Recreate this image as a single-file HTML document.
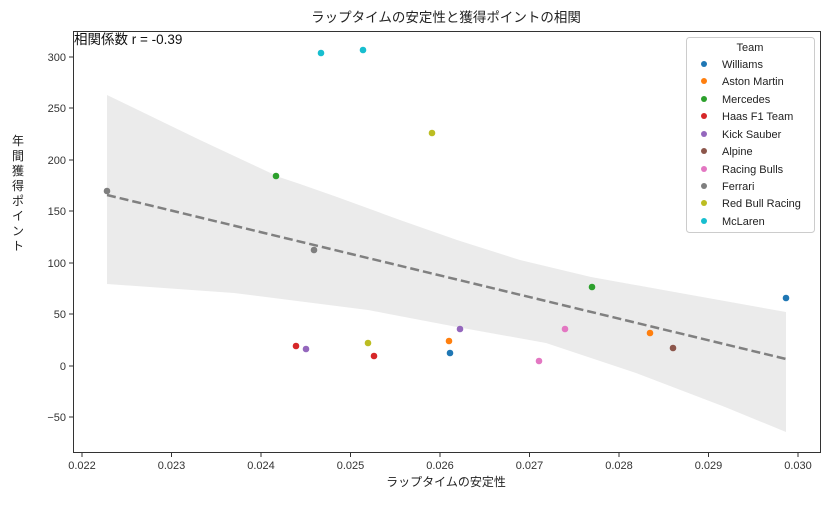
<!DOCTYPE html><html><head><style>body{margin:0;background:#fff}svg text{font-family:"Liberation Sans","Noto Sans CJK JP",sans-serif}</style></head><body>
<svg width="833" height="500" xmlns="http://www.w3.org/2000/svg">
<text x="446" y="22" font-size="13.5" text-anchor="middle" fill="#222">ラップタイムの安定性と獲得ポイントの相関</text>
<path d="M107,95 L200,140 L279,177 L300,184 L337,197 L400,220 L457,240 L520,260 L591,277 L680,293 L786,312 L786,432 L725,407 L636,373 L546,343 L457,327 L368,310 L234,293 L107,284 Z" fill="#ebebeb"/>
<line x1="107" y1="195" x2="786" y2="359" stroke="#808080" stroke-width="2.5" stroke-dasharray="9,4"/>
<g>
<circle cx="786" cy="298" r="3.3" fill="#1f77b4"/><circle cx="450" cy="353" r="3.3" fill="#1f77b4"/>
<circle cx="650" cy="333" r="3.3" fill="#ff7f0e"/><circle cx="449" cy="341" r="3.3" fill="#ff7f0e"/>
<circle cx="276" cy="176" r="3.3" fill="#2ca02c"/><circle cx="592" cy="287" r="3.3" fill="#2ca02c"/>
<circle cx="296" cy="346" r="3.3" fill="#d62728"/><circle cx="374" cy="356" r="3.3" fill="#d62728"/>
<circle cx="306" cy="349" r="3.3" fill="#9467bd"/><circle cx="460" cy="329" r="3.3" fill="#9467bd"/>
<circle cx="673" cy="348" r="3.3" fill="#8c564b"/>
<circle cx="565" cy="329" r="3.3" fill="#e377c2"/><circle cx="539" cy="361" r="3.3" fill="#e377c2"/>
<circle cx="107" cy="191" r="3.3" fill="#7f7f7f"/><circle cx="314" cy="250" r="3.3" fill="#7f7f7f"/>
<circle cx="432" cy="133" r="3.3" fill="#bcbd22"/><circle cx="368" cy="343" r="3.3" fill="#bcbd22"/>
<circle cx="321" cy="53" r="3.3" fill="#17becf"/><circle cx="363" cy="50" r="3.3" fill="#17becf"/>
</g>
<rect x="73.5" y="31.5" width="747" height="421" fill="none" stroke="#333" stroke-width="1"/>
<text x="74" y="44" font-size="13.5" fill="#111">相関係数 r = -0.39</text>
<g font-size="11" fill="#333" text-anchor="end">
<text x="66" y="61">300</text><text x="66" y="112">250</text><text x="66" y="164">200</text><text x="66" y="215">150</text><text x="66" y="267">100</text><text x="66" y="318">50</text><text x="66" y="370">0</text><text x="66" y="421">−50</text>
</g>
<g stroke="#333"><line x1="69" x2="73" y1="57" y2="57"/><line x1="69" x2="73" y1="108" y2="108"/><line x1="69" x2="73" y1="160" y2="160"/><line x1="69" x2="73" y1="211" y2="211"/><line x1="69" x2="73" y1="263" y2="263"/><line x1="69" x2="73" y1="314" y2="314"/><line x1="69" x2="73" y1="366" y2="366"/><line x1="69" x2="73" y1="417" y2="417"/>
<line y1="453" y2="457" x1="82" x2="82"/><line y1="453" y2="457" x1="171.5" x2="171.5"/><line y1="453" y2="457" x1="261" x2="261"/><line y1="453" y2="457" x1="350.5" x2="350.5"/><line y1="453" y2="457" x1="440" x2="440"/><line y1="453" y2="457" x1="529.5" x2="529.5"/><line y1="453" y2="457" x1="619" x2="619"/><line y1="453" y2="457" x1="708.5" x2="708.5"/><line y1="453" y2="457" x1="798" x2="798"/></g>
<g font-size="11" fill="#333" text-anchor="middle">
<text x="82" y="469">0.022</text><text x="171.5" y="469">0.023</text><text x="261" y="469">0.024</text><text x="350.5" y="469">0.025</text><text x="440" y="469">0.026</text><text x="529.5" y="469">0.027</text><text x="619" y="469">0.028</text><text x="708.5" y="469">0.029</text><text x="798" y="469">0.030</text>
</g>
<text x="446" y="486" font-size="12" text-anchor="middle" fill="#222">ラップタイムの安定性</text>
<g font-size="12" fill="#222" text-anchor="middle"><text x="18" y="145">年</text><text x="18" y="160">間</text><text x="18" y="175">獲</text><text x="18" y="190">得</text><text x="18" y="205">ポ</text><text x="18" y="220">イ</text><text x="18" y="235">ン</text><text x="18" y="250">ト</text></g>
<rect x="686.5" y="37.5" width="128" height="195" rx="3" fill="#fff" stroke="#ccc"/>
<text x="750" y="51" font-size="11" text-anchor="middle" fill="#222">Team</text>
<g font-size="11" fill="#222">
<circle cx="704" cy="64" r="3" fill="#1f77b4"/><text x="722" y="68">Williams</text>
<circle cx="704" cy="81" r="3" fill="#ff7f0e"/><text x="722" y="85">Aston Martin</text>
<circle cx="704" cy="99" r="3" fill="#2ca02c"/><text x="722" y="103">Mercedes</text>
<circle cx="704" cy="116" r="3" fill="#d62728"/><text x="722" y="120">Haas F1 Team</text>
<circle cx="704" cy="134" r="3" fill="#9467bd"/><text x="722" y="138">Kick Sauber</text>
<circle cx="704" cy="151" r="3" fill="#8c564b"/><text x="722" y="155">Alpine</text>
<circle cx="704" cy="169" r="3" fill="#e377c2"/><text x="722" y="173">Racing Bulls</text>
<circle cx="704" cy="186" r="3" fill="#7f7f7f"/><text x="722" y="190">Ferrari</text>
<circle cx="704" cy="203" r="3" fill="#bcbd22"/><text x="722" y="207">Red Bull Racing</text>
<circle cx="704" cy="221" r="3" fill="#17becf"/><text x="722" y="225">McLaren</text>
</g>
</svg></body></html>
